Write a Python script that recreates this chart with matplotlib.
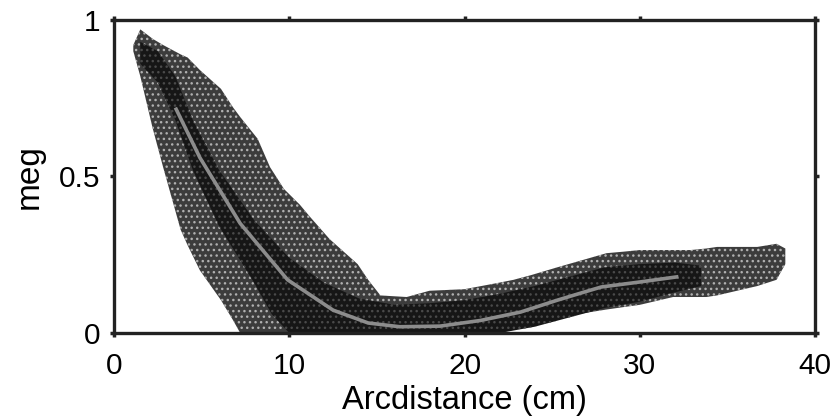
import matplotlib
matplotlib.use("Agg")
import matplotlib.pyplot as plt

plt.rcParams['font.family'] = ['Liberation Sans', 'DejaVu Sans']
plt.rcParams['hatch.linewidth'] = 1.0

# Outer extent of the point cloud
x_env = [1.1, 1.5, 2.2, 2.8, 3.8, 4.2, 4.9, 6.1, 6.8, 7.2, 8.2, 8.9, 9.7, 10.6, 11.2,
         12.3, 13.9, 14.5, 15.2, 16.7, 18, 20, 21.9, 22.8, 23.8, 25.3, 28.1, 29.1,
         30, 31.9, 32.9, 33.8, 34.4, 35.7, 36.7, 37.8, 38.3]
upper = [0.92, 0.97, 0.94, 0.92, 0.89, 0.88, 0.84, 0.78, 0.72, 0.69, 0.62, 0.53, 0.46,
         0.41, 0.37, 0.30, 0.22, 0.17, 0.12, 0.115, 0.135, 0.14, 0.16, 0.17, 0.185,
         0.21, 0.255, 0.26, 0.265, 0.265, 0.265, 0.27, 0.275, 0.275, 0.275, 0.285, 0.27]
lower = [0.90, 0.82, 0.655, 0.53, 0.33, 0.28, 0.20, 0.105, 0.04, 0.0, 0.0, 0.0, 0.0,
         0.0, 0.0, 0.0, 0.0, 0.0, 0.0, 0.0, 0.0, 0.0, 0.0, 0.01, 0.025, 0.05, 0.075,
         0.083, 0.09, 0.115, 0.115, 0.115, 0.12, 0.137, 0.15, 0.17, 0.22]

# Dense core of the cloud
x_core = [1.5, 2.5, 3.5, 4.5, 6, 8, 9, 10, 12, 14, 16, 18, 20, 22, 24, 26, 28, 30, 32, 33.5]
core_up = [0.93, 0.90, 0.82, 0.68, 0.52, 0.36, 0.30, 0.24, 0.16, 0.11, 0.09, 0.095, 0.105,
           0.125, 0.15, 0.18, 0.21, 0.22, 0.225, 0.215]
core_lo = [0.86, 0.80, 0.68, 0.52, 0.34, 0.16, 0.06, 0.0, 0.0, 0.0, 0.0, 0.0, 0.0,
           0.0, 0.02, 0.05, 0.08, 0.10, 0.13, 0.15]

# Smoothed trend line (gray)
x_fit = [3.5, 4.9, 7.2, 9.9, 12.5, 14.5, 16.3, 18.6, 20.9, 23.2, 25.3, 26.6, 27.8, 30, 32.2]
y_fit = [0.72, 0.56, 0.35, 0.17, 0.073, 0.032, 0.02, 0.022, 0.04, 0.067, 0.105,
         0.127, 0.147, 0.163, 0.18]

fig = plt.figure(figsize=(8.36, 4.16), dpi=100)
ax = fig.add_axes([0.1364, 0.1995, 0.8386, 0.7525])

ax.fill_between(x_env, lower, upper, facecolor='#3c3c3c', edgecolor='#b0b0b0',
                hatch='...', linewidth=0, zorder=1)
ax.fill_between(x_core, core_lo, core_up, facecolor='#161616', edgecolor='#4a4a4a',
                hatch='...', linewidth=0, zorder=2)
ax.plot(x_fit, y_fit, color='#8c8c8c', linewidth=2.6, zorder=3, solid_capstyle='butt')

ax.set_xlim(0, 40)
ax.set_ylim(0, 1)
ax.set_xticks([0, 10, 20, 30, 40])
ax.set_yticks([0, 0.5, 1])
ax.set_yticklabels(['0', '0.5', '1'])
ax.tick_params(direction='out', length=3, width=2.5, labelsize=21.5, color='#222222',
               top=True, right=True)
ax.tick_params(axis='x', pad=11)
ax.tick_params(axis='y', pad=7)
for s in ax.spines.values():
    s.set_linewidth(2.4)
    s.set_color('#222222')
ax.set_xlabel('Arcdistance (cm)', fontsize=23.5, labelpad=3)
ax.set_ylabel('meg', fontsize=24, labelpad=10)

fig.savefig('out.png', dpi=100)
